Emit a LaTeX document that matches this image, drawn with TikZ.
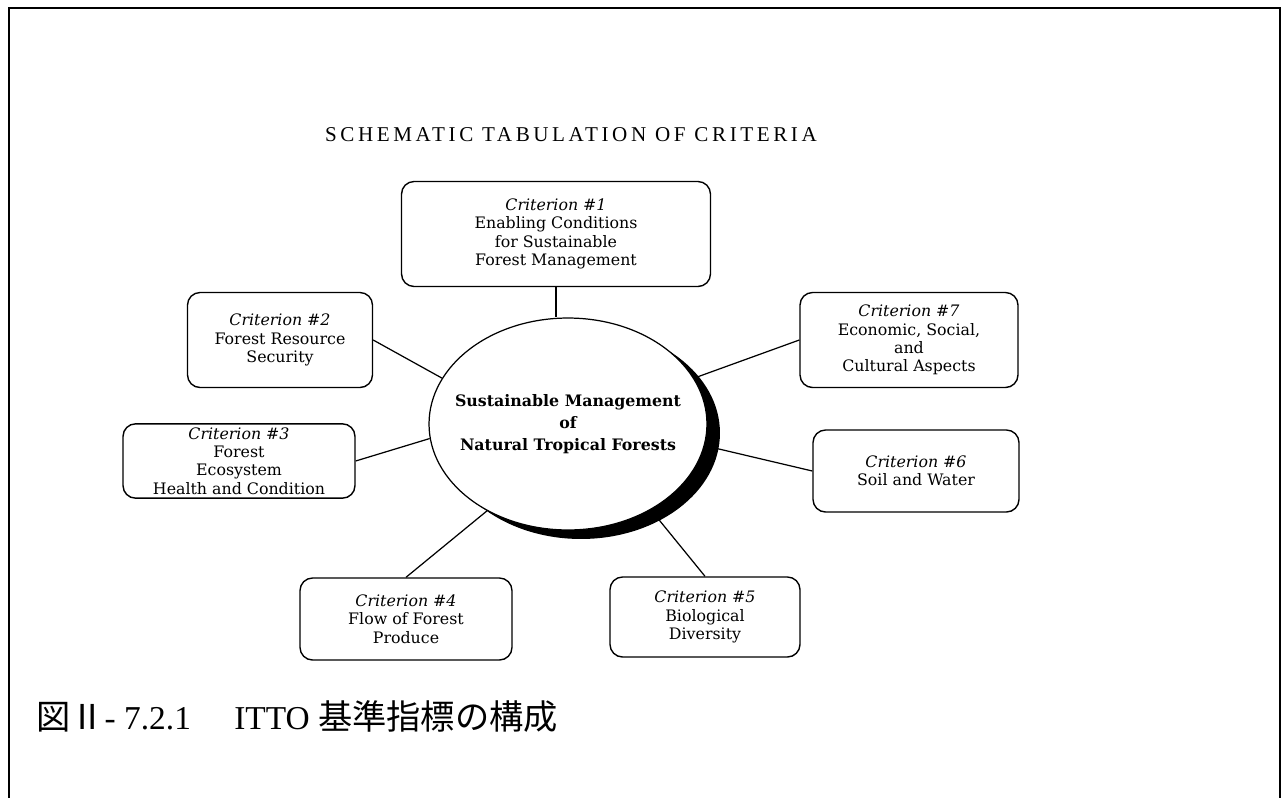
\documentclass[tikz,border=0pt]{standalone}
\usepackage{fontspec}
\setmainfont{DejaVu Serif}
\newfontfamily\headfont[LetterSpace=17]{Liberation Serif}
\newfontfamily\capfont{Liberation Serif}
\newfontfamily\cjk{Noto Sans CJK JP}
\usetikzlibrary{shapes.geometric,backgrounds}

\tikzset{
  crit/.style={draw, line width=0.8pt, rounded corners=0.25cm, fill=white,
    align=center, inner xsep=0pt, inner ysep=2pt, font=\fontsize{9}{10.5}\selectfont},
  link/.style={line width=0.7pt},
}

\begin{document}
\begin{tikzpicture}[x=0.02cm,y=-0.02cm]
  \useasboundingbox (0,0) rectangle (1282,798);
  % frame, open at the foot
  \draw[line width=0.9pt] (9,798) -- (9,8) -- (1280,8) -- (1280,798);
  \node (head) at (571,135) {\headfont\fontsize{12}{14}\selectfont SCHEMATIC TABULATION OF CRITERIA};

  \node[ellipse, draw, fill=white, line width=0.7pt, minimum width=5.56cm,
    minimum height=4.24cm, inner xsep=-0.3cm, inner ysep=0pt, align=center,
    font=\bfseries\fontsize{9}{12.5}\selectfont] (core) at (568,424)
    {Sustainable Management\\of\\Natural Tropical Forests};

  \node[crit, minimum width=6.18cm, minimum height=2.1cm] (c1) at (556,234)
    {\textit{Criterion \#1}\\Enabling Conditions\\for Sustainable\\Forest Management};
  \node[crit, minimum width=3.7cm, minimum height=1.9cm] (c2) at (280,340)
    {\textit{Criterion \#2}\\Forest Resource\\Security};
  \node[crit, minimum width=4.64cm, minimum height=1.32cm] (c3) at (239,461)
    {\textit{Criterion \#3}\\Forest\\Ecosystem\\Health and Condition};
  \node[crit, minimum width=4.24cm, minimum height=1.64cm] (c4) at (406,619)
    {\textit{Criterion \#4}\\Flow of Forest\\Produce};
  \node[crit, minimum width=3.8cm, minimum height=1.6cm] (c5) at (705,617)
    {\textit{Criterion \#5}\\Biological\\Diversity};
  \node[crit, minimum width=4.12cm, minimum height=1.64cm] (c6) at (916,471)
    {\textit{Criterion \#6}\\Soil and Water};
  \node[crit, minimum width=4.36cm, minimum height=1.9cm] (c7) at (909,340)
    {\textit{Criterion \#7}\\Economic, Social,\\and\\Cultural Aspects};

  \begin{pgfonlayer}{background}
    \draw[link] (c1.south) -- (c1.south |- core.north);
    \draw[link] (c2.east) -- (core.160);
    \draw[link] (c3.east) -- (core.186);
    \draw[link] (c4.north) -- (core.227);
    \draw[link] (c5.north) -- (core.-46);
    \draw[link] (c6.west) -- (core.-9);
    \draw[link] (c7.west) -- (core.20);
    % shadow of the hub
    \fill ([shift={(13,9)}]core.center) ellipse [x radius=2.78cm, y radius=2.12cm];
  \end{pgfonlayer}

  \node[anchor=west] (cap) at (30,717)
    {{\cjk\fontsize{19.5}{22}\selectfont 図Ⅱ}{\capfont\fontsize{19}{22}\selectfont
      - 7.2.1\hspace{1.3em}ITTO }{\cjk\fontsize{19.5}{22}\selectfont 基準指標の構成}};
\end{tikzpicture}
\end{document}
